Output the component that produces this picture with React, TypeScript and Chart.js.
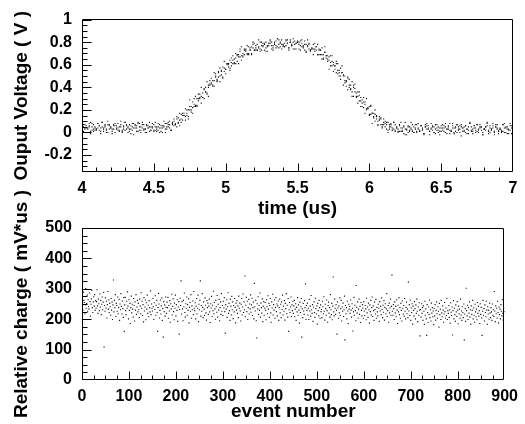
import { useEffect, useRef } from "react";
import { Chart, registerables } from "chart.js";

Chart.register(...registerables);

const FAMILY = "'Liberation Sans', Arial, Helvetica, sans-serif";

// ---------- top panel: sampled waveforms (time grid 4.00 .. 7.00 us, step 0.01) ----------
const TIME_START = 4.0;
const TIME_STEP = 0.01;

const TRACE_1 = [
  .06,.07,.03,.04,.00,.05,.09,.02,.01,.04,
  .03,.08,.06,-.01,.05,.04,.07,.02,.10,.03,
  .04,.01,.06,.08,.03,.02,.05,.07,.00,.06,
  .09,.03,.04,.01,.06,.05,-.02,.07,.04,.08,
  .02,.05,.07,.03,.00,.06,.04,.09,.02,.05,
  .07,.02,.03,.08,.04,.01,.06,.05,.00,.08,
  .05,.07,.02,.07,.10,.07,.14,.08,.11,.09,
  .17,.15,.14,.20,.14,.20,.23,.22,.30,.24,
  .24,.30,.34,.32,.31,.38,.36,.34,.42,.46,
  .44,.42,.46,.50,.46,.54,.50,.55,.49,.57,
  .56,.61,.61,.57,.62,.68,.62,.66,.63,.69,
  .72,.68,.67,.73,.72,.70,.76,.73,.70,.80,
  .73,.75,.78,.75,.80,.73,.77,.79,.72,.77,
  .79,.82,.77,.75,.78,.81,.76,.82,.79,.74,
  .78,.76,.82,.79,.75,.80,.77,.83,.74,.79,
  .81,.74,.77,.79,.76,.81,.71,.77,.78,.73,
  .74,.78,.72,.73,.78,.69,.73,.69,.65,.71,
  .68,.65,.67,.59,.63,.60,.56,.63,.52,.55,
  .50,.53,.50,.46,.41,.48,.42,.42,.36,.42,
  .39,.31,.32,.33,.28,.23,.27,.25,.20,.21,
  .16,.23,.17,.13,.16,.12,.07,.12,.13,.07,
  .09,.05,.03,.09,.05,.05,.02,.09,.01,.05,
  .03,.06,.01,.04,-.01,.09,.02,.00,.05,.03,
  .02,.05,.07,.00,.04,.01,.06,.03,-.02,.07,
  .06,.03,.01,.08,.02,.05,-.01,.04,.00,.04,
  .01,.07,.04,.00,.03,.06,.02,.01,.08,-.01,
  .04,.00,.05,.03,.07,.01,.02,.06,-.01,.05,
  .08,.02,.01,.04,.00,.07,.03,.05,.02,-.02,
  .03,.05,.06,-.01,.04,.02,.08,.00,.05,.03,
  .01,.04,.02,.07,.00,.05,.03,-.01,.06,.04,
  .05,
];

const TRACE_2 = [
  .06,
  .05,.07,.00,.04,.06,.01,.08,.03,.05,.02,
  .04,.06,.01,.09,.03,.05,.00,.07,.06,.04,
  -.01,.03,.06,.04,.08,.01,.05,.02,.03,.09,
  .06,.00,.07,.03,.02,.08,.04,.06,.01,.05,
  .00,.09,.02,.03,.07,.04,.01,.05,.08,.02,
  .05,.01,.05,.00,.06,.04,.10,.03,.05,.09,
  .10,.02,.08,.12,.08,.12,.09,.17,.16,.15,
  .17,.21,.17,.20,.29,.20,.27,.25,.32,.30,
  .34,.30,.40,.35,.39,.40,.45,.40,.43,.48,
  .46,.53,.52,.47,.53,.57,.54,.58,.63,.56,
  .61,.60,.64,.66,.61,.65,.70,.68,.67,.74,
  .76,.68,.74,.73,.77,.69,.73,.76,.78,.73,
  .77,.73,.82,.74,.77,.79,.73,.80,.76,.79,
  .81,.74,.77,.80,.75,.83,.78,.76,.82,.77,
  .76,.81,.79,.73,.82,.77,.80,.78,.74,.80,
  .78,.73,.82,.75,.78,.72,.76,.79,.72,.74,
  .69,.74,.76,.69,.73,.69,.65,.66,.71,.66,
  .63,.56,.62,.59,.54,.59,.53,.55,.50,.47,
  .53,.42,.44,.45,.38,.40,.39,.32,.32,.36,
  .32,.26,.28,.23,.29,.22,.17,.21,.21,.15,
  .16,.08,.14,.10,.14,.06,.11,.07,.04,.07,
  .10,.07,.00,.03,.07,.02,.03,.07,.04,.00,
  .01,.09,.02,.05,.03,-.02,.06,.01,.04,.07,
  .00,.03,.01,.08,.02,.06,.04,-.01,.05,.03,
  .06,-.02,.04,.05,.00,.03,.07,.02,.01,.06,
  .04,.01,.08,.03,.05,-.01,.02,.06,.04,.01,
  .07,.03,.06,-.03,.04,.05,.00,.03,.02,.08,
  .05,-.01,.06,.04,.01,.02,.07,.05,.00,.03,
  .02,.09,.01,.06,.03,.04,-.02,.05,.07,.02,
  .03,.00,.01,.08,.04,-.01,.03,.02,.06,.05,
];

const TRACE_3 = [
  .07,.01,.04,.06,.03,.08,-.01,.05,.07,.02,
  .03,.08,.02,.04,.09,.01,.06,.03,.00,.07,
  .05,.03,.07,.00,.06,.04,.02,.10,.01,.05,
  .02,.07,.05,.03,-.01,.08,.04,.06,.01,.09,
  .08,.02,.04,.07,.03,.00,.06,.05,.02,.04,
  .01,.09,.05,.02,.07,.04,.00,.06,.08,.03,
  .07,.04,.02,.09,.06,.07,.05,.13,.06,.12,
  .11,.15,.11,.15,.12,.23,.18,.17,.23,.23,
  .23,.28,.31,.26,.31,.30,.36,.35,.32,.42,
  .43,.41,.41,.49,.45,.49,.45,.51,.48,.54,
  .52,.60,.58,.55,.59,.64,.61,.61,.69,.61,
  .67,.64,.70,.69,.74,.69,.70,.75,.69,.75,
  .79,.73,.73,.76,.72,.80,.76,.78,.75,.72,
  .77,.79,.80,.73,.79,.77,.83,.75,.80,.78,
  .76,.79,.77,.82,.75,.80,.78,.74,.81,.79,
  .80,
  .80,.81,.76,.77,.73,.78,.82,.74,.73,.75,
  .74,.79,.76,.69,.74,.73,.75,.69,.76,.68,
  .68,.64,.68,.68,.62,.59,.61,.61,.53,.57,
  .59,.51,.50,.46,.49,.47,.38,.45,.40,.43,
  .35,.36,.36,.31,.26,.31,.27,.30,.22,.23,
  .24,.17,.17,.20,.15,.10,.14,.12,.05,.12,
  .08,.09,.02,.07,.08,.04,.09,.02,.04,.01,
  .07,.04,.01,.06,-.02,.03,.05,.02,.09,.01,
  .00,.04,.07,.03,.01,.06,.02,-.01,.05,.08,
  .04,.01,.03,.06,.00,.07,.02,.05,-.02,.04,
  .02,.06,.05,-.01,.03,.08,.01,.04,.00,.05,
  .07,.02,.00,.05,.04,.01,.06,.03,-.01,.09,
  .01,.03,.06,.02,.07,.00,.04,.05,-.02,.03,
  .05,.08,.02,.00,.03,.06,.01,.07,.04,-.01,
  .03,.01,.07,.04,.00,.05,.02,.08,-.01,.04,
];

// ---------- bottom panel: relative charge per event (event number = index) ----------
const CHARGE = [
  271,244,230,289,262,255,218,247,301,236,252,279,226,264,241,233,286,258,210,249,267,295,238,222,257,274,243,281,229,261,
  236,258,297,244,219,266,251,228,283,240,262,215,249,273,231,256,288,109,245,226,270,237,259,204,248,291,233,264,222,252,
  241,213,268,230,256,199,247,329,224,262,238,281,209,252,245,226,273,218,239,265,196,250,231,284,242,217,260,235,206,271,
  160,247,272,228,215,259,236,290,243,201,264,229,252,186,238,276,221,249,233,207,268,245,194,257,230,281,216,240,262,224,
  252,231,205,266,243,218,287,236,259,212,248,191,271,227,240,263,198,254,233,279,219,246,208,261,238,224,293,215,250,236,
  227,268,241,199,254,232,277,213,246,262,222,160,238,285,250,204,229,263,217,244,270,196,235,141,258,225,247,210,273,239,
  219,256,238,272,203,245,227,261,190,251,234,282,214,242,267,225,198,253,236,279,211,248,229,264,193,240,258,151,232,269,
  245,326,217,258,234,195,262,241,286,222,207,251,236,273,213,248,229,267,188,239,255,226,281,203,244,231,260,215,291,236,
  228,254,201,243,268,217,236,279,192,249,231,262,326,210,245,226,284,239,205,257,233,212,270,246,221,197,261,238,253,216,
  243,266,224,189,251,237,275,209,246,228,292,218,255,234,200,262,241,223,278,207,249,230,265,195,238,257,216,284,226,245,
  212,259,237,271,225,154,248,233,264,206,241,287,219,252,228,196,266,243,214,275,231,257,202,245,224,268,239,188,253,230,
  261,219,244,205,276,236,253,227,194,249,268,214,240,283,222,257,231,342,208,246,272,225,259,199,238,265,217,250,234,280,
  223,247,269,212,238,256,201,318,241,227,262,195,138,251,234,274,216,245,229,286,207,253,238,220,267,192,243,258,213,236,
  255,229,198,264,241,218,277,233,252,206,245,268,221,190,257,237,282,214,248,230,263,203,239,271,225,250,211,244,260,196,
  238,266,221,249,205,257,232,279,214,243,226,261,197,252,235,284,218,246,207,268,160,231,255,222,240,273,209,247,228,259,
  219,244,262,208,233,251,196,239,224,271,213,247,230,187,256,222,241,268,141,234,205,252,227,216,261,238,316,199,245,229,
  253,214,236,199,265,227,243,210,278,231,219,248,193,240,257,222,206,269,235,217,244,184,252,228,211,262,238,203,247,225,
  232,205,259,241,218,274,226,197,249,235,213,263,228,190,245,256,220,238,207,281,231,215,252,198,243,339,224,211,266,236,
  216,248,229,151,257,237,203,244,221,270,212,235,262,194,240,226,253,209,231,276,132,245,218,238,201,259,227,186,249,233,
  242,219,263,230,207,251,236,161,224,272,213,246,228,195,311,239,220,257,204,233,266,216,242,189,255,229,211,248,237,203,
  258,227,212,245,234,198,269,221,240,206,253,231,187,247,225,262,214,238,273,209,244,228,196,256,232,217,265,203,239,224,
  211,249,236,193,258,227,242,215,270,232,205,246,223,261,197,239,251,218,234,284,209,228,245,190,253,221,237,266,213,242,
  345,226,213,248,235,199,257,221,242,208,264,230,186,246,224,271,215,238,203,252,229,194,260,236,217,245,210,268,226,201,
  239,256,218,233,205,322,227,248,212,263,196,237,222,251,184,243,229,210,258,235,201,247,219,266,226,192,240,213,254,230,
  145,232,207,251,219,238,196,244,226,183,259,213,234,201,147,248,222,189,240,216,263,205,231,194,253,220,238,208,227,182,
  236,211,248,197,229,257,218,203,241,226,174,252,215,233,199,262,221,208,244,230,190,217,255,225,204,237,212,269,199,228,
  219,245,206,231,187,254,223,212,240,148,228,261,201,236,215,193,247,224,209,258,230,185,243,218,233,203,266,214,227,196,
  241,222,205,250,132,217,235,193,302,228,211,246,199,238,220,257,207,231,184,244,216,229,262,201,237,213,190,249,224,208,
  233,198,255,219,242,210,228,186,251,216,239,204,147,226,262,213,235,194,247,222,208,259,230,183,241,217,229,200,253,221,
  205,238,224,196,250,213,231,209,291,227,192,244,218,236,203,259,222,188,240,215,233,201,248,226,211,264,219,197,237,225,
];

// ---------- axes ----------
const TOP_X_TICKS = [4, 4.5, 5, 5.5, 6, 6.5, 7];
const TOP_Y_TICKS = [-0.2, 0, 0.2, 0.4, 0.6, 0.8, 1];
const BOT_X_TICKS = [0, 100, 200, 300, 400, 500, 600, 700, 800, 900];
const BOT_Y_TICKS = [0, 100, 200, 300, 400, 500];

const TOP_X_TITLE = "time (us)";
const TOP_Y_TITLE = "Ouput Voltage ( V )";
const BOT_X_TITLE = "event number";
const BOT_Y_TITLE = "Relative charge ( mV*us )";

function range(min: number, max: number, step: number): number[] {
  const out: number[] = [];
  const n = Math.round((max - min) / step);
  for (let i = 0; i <= n; i++) out.push(+(min + i * step).toFixed(6));
  return out;
}

const fmt = (v: number) => String(+Number(v).toFixed(3));

type TickSpec = {
  xMajor: number[];
  xMinor: number[];
  yMajor: number[];
  yMinor: number[];
  xMajLen: number;
  xMinLen: number;
  yMajLen: number;
  yMinLen: number;
};

function frameTicksPlugin(spec: TickSpec) {
  return {
    id: "frameTicks",
    afterDraw(chart: any) {
      const { ctx, chartArea: a } = chart;
      const xs = chart.scales.x;
      const ys = chart.scales.y;
      const L = Math.floor(a.left) + 0.5;
      const R = Math.floor(a.right) - 0.5;
      const T = Math.floor(a.top) + 0.5;
      const B = Math.floor(a.bottom) - 0.5;
      ctx.save();
      ctx.strokeStyle = "#000";
      ctx.lineWidth = 1;
      ctx.beginPath();
      ctx.rect(L, T, R - L, B - T);
      ctx.stroke();
      ctx.beginPath();
      const xt = (vals: number[], len: number) => {
        for (const v of vals) {
          const px = Math.round(xs.getPixelForValue(v)) + 0.5;
          if (px < L - 0.5 || px > R + 0.5) continue;
          ctx.moveTo(px, B);
          ctx.lineTo(px, B - len);
        }
      };
      const yt = (vals: number[], len: number) => {
        for (const v of vals) {
          const py = Math.round(ys.getPixelForValue(v)) + 0.5;
          if (py < T - 0.5 || py > B + 0.5) continue;
          ctx.moveTo(L, py);
          ctx.lineTo(L + len, py);
        }
      };
      xt(spec.xMinor, spec.xMinLen);
      xt(spec.xMajor, spec.xMajLen);
      yt(spec.yMinor, spec.yMinLen);
      yt(spec.yMajor, spec.yMajLen);
      ctx.stroke();
      ctx.restore();
    },
  };
}

function titlesPlugin(xTitle: string, yTitle: string, xBaseline: number, yBaselineX: number) {
  return {
    id: "axisTitles",
    afterDraw(chart: any) {
      const { ctx, chartArea: a } = chart;
      ctx.save();
      ctx.fillStyle = "#000";
      ctx.font = `bold 19px ${FAMILY}`;
      ctx.textAlign = "center";
      ctx.textBaseline = "alphabetic";
      ctx.fillText(xTitle, (a.left + a.right) / 2, xBaseline);
      ctx.translate(yBaselineX, (a.top + a.bottom) / 2);
      ctx.rotate(-Math.PI / 2);
      ctx.fillText(yTitle, 0, 0);
      ctx.restore();
    },
  };
}

const tickFont = { family: FAMILY, size: 16, weight: "bold" as const };

function makeConfig(opts: {
  datasets: any[];
  xMin: number;
  xMax: number;
  yMin: number;
  yMax: number;
  xTicks: number[];
  yTicks: number[];
  padTop: number;
  xAxisHeight: number;
  plugins: any[];
}) {
  return {
    type: "scatter" as const,
    data: { datasets: opts.datasets },
    options: {
      animation: false as const,
      responsive: false,
      maintainAspectRatio: false,
      devicePixelRatio: 1,
      events: [] as any[],
      layout: { padding: { top: opts.padTop, right: 12, left: 0, bottom: 0 } },
      plugins: { legend: { display: false }, tooltip: { enabled: false }, title: { display: false } },
      scales: {
        x: {
          type: "linear" as const,
          min: opts.xMin,
          max: opts.xMax,
          grid: { display: false, drawTicks: false },
          border: { display: false },
          afterBuildTicks: (s: any) => {
            s.ticks = opts.xTicks.map((v) => ({ value: v }));
          },
          afterFit: (s: any) => {
            s.height = opts.xAxisHeight;
          },
          ticks: {
            autoSkip: false,
            maxRotation: 0,
            minRotation: 0,
            padding: 7,
            color: "#000",
            font: tickFont,
            callback: (v: any) => fmt(v),
          },
        },
        y: {
          type: "linear" as const,
          min: opts.yMin,
          max: opts.yMax,
          grid: { display: false, drawTicks: false },
          border: { display: false },
          afterBuildTicks: (s: any) => {
            s.ticks = opts.yTicks.map((v) => ({ value: v }));
          },
          afterFit: (s: any) => {
            s.width = 82;
          },
          ticks: {
            autoSkip: false,
            padding: 10,
            color: "#000",
            font: tickFont,
            callback: (v: any) => fmt(v),
          },
        },
      },
    },
    plugins: opts.plugins,
  };
}

const pointStyle = {
  showLine: false,
  pointStyle: "rect" as const,
  pointRadius: 0.8,
  pointBorderWidth: 0,
  backgroundColor: "#111",
  borderColor: "#111",
};

export default function App() {
  const topRef = useRef<HTMLCanvasElement>(null);
  const botRef = useRef<HTMLCanvasElement>(null);

  useEffect(() => {
    const traceData = (vals: number[]) =>
      vals.map((v, i) => ({ x: TIME_START + i * TIME_STEP, y: v }));

    const top = new Chart(
      topRef.current as HTMLCanvasElement,
      makeConfig({
        datasets: [TRACE_1, TRACE_2, TRACE_3].map((t, k) => ({
          label: `trace ${k + 1}`,
          data: traceData(t),
          ...pointStyle,
        })),
        xMin: 4,
        xMax: 7,
        yMin: -0.35,
        yMax: 1,
        xTicks: TOP_X_TICKS,
        yTicks: TOP_Y_TICKS,
        padTop: 19,
        xAxisHeight: 222 - 172,
        plugins: [
          frameTicksPlugin({
            xMajor: TOP_X_TICKS,
            xMinor: range(4, 7, 0.1),
            yMajor: TOP_Y_TICKS,
            yMinor: range(-0.35, 1, 0.05),
            xMajLen: 8,
            xMinLen: 4,
            yMajLen: 9,
            yMinLen: 5,
          }),
          titlesPlugin(TOP_X_TITLE, TOP_Y_TITLE, 214, 27),
        ],
      }) as any
    );

    const bot = new Chart(
      botRef.current as HTMLCanvasElement,
      makeConfig({
        datasets: [
          {
            label: "charge",
            data: CHARGE.map((v, i) => ({ x: i, y: v })),
            ...pointStyle,
          },
        ],
        xMin: 0,
        xMax: 900,
        yMin: 0,
        yMax: 500,
        xTicks: BOT_X_TICKS,
        yTicks: BOT_Y_TICKS,
        padTop: 48,
        xAxisHeight: 244 - 200,
        plugins: [
          frameTicksPlugin({
            xMajor: BOT_X_TICKS,
            xMinor: range(0, 900, 25),
            yMajor: BOT_Y_TICKS,
            yMinor: range(0, 500, 25),
            xMajLen: 8,
            xMinLen: 4,
            yMajLen: 9,
            yMinLen: 5,
          }),
          titlesPlugin(BOT_X_TITLE, BOT_Y_TITLE, 417 - 180, 27),
        ],
      }) as any
    );

    return () => {
      top.destroy();
      bot.destroy();
    };
  }, []);

  return (
    <div style={{ position: "absolute", left: 0, top: 0, width: 525, height: 424, background: "#fff" }}>
      <canvas ref={topRef} width={525} height={222} style={{ position: "absolute", left: 0, top: 0 }} />
      <canvas ref={botRef} width={525} height={244} style={{ position: "absolute", left: 0, top: 180 }} />
    </div>
  );
}
